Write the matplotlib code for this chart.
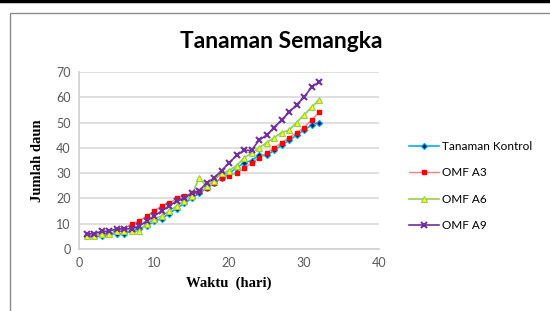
import matplotlib.pyplot as plt
from matplotlib.patches import Rectangle
from matplotlib.lines import Line2D

# Data (jumlah daun per hari)
hari = list(range(1, 33))
kontrol = [5, 5, 5, 6, 6, 6, 7, 8, 9, 11, 12, 14, 16, 18, 20, 22,
           24, 26, 28, 30, 32, 34, 35, 37, 37, 39, 41, 43, 45, 47, 49, 50]
omf_a3 = [5, 5, 6, 6, 7, 8, 10, 11, 13, 15, 17, 18, 20, 21, 22, 23,
          24, 26, 28, 29, 30, 32, 34, 36, 38, 40, 42, 44, 46, 48, 51, 54]
omf_a6 = [5, 5, 6, 6, 7, 7, 7, 7, 10, 12, 13, 15, 17, 19, 21, 28,
          25, 27, 30, 31, 33, 36, 38, 40, 42, 44, 46, 47, 50, 53, 56, 59]
omf_a9 = [6, 6, 7, 7, 8, 8, 8, 9, 11, 13, 15, 17, 19, 20, 22, 23,
          26, 28, 31, 34, 37, 39, 39, 43, 45, 48, 51, 54, 57, 60, 64, 66]

labels = ['Tanaman Kontrol', 'OMF A3', 'OMF A6', 'OMF A9']

fig = plt.figure(figsize=(5.5, 3.11), dpi=100)

# bingkai grafik + garis hitam atas
fig.add_artist(Line2D([0, 1], [1 - 1 / 311, 1 - 1 / 311], color='black', lw=2.5))
fig.add_artist(Rectangle((9.5 / 550, -0.1), 1.2, 1 - 12.5 / 311 + 0.1, fill=False,
                         edgecolor='#8c8c8c', lw=1.0))

ax = fig.add_axes([79 / 550, 1 - 249 / 311, 300 / 550, 177 / 311])

ax.plot(hari, kontrol, color='#00b0f0', lw=1.2, marker='D', ms=3.2,
        mfc='#002060', mec='#00b0f0', mew=0.8, label=labels[0])
ax.plot(hari, omf_a3, color='#ff8080', lw=1.0, marker='s', ms=3.5,
        mfc='#ff0000', mec='#ff0000', label=labels[1])
ax.plot(hari, omf_a6, color='#92d050', lw=1.2, marker='^', ms=4.5,
        mfc='#ffff00', mec='#92d050', mew=0.8, label=labels[2])
ax.plot(hari, omf_a9, color='#7030a0', lw=1.2, marker='x', ms=5, mew=1.5,
        label=labels[3])

ax.set_xlim(0, 40)
ax.set_ylim(0, 70)
ax.set_xticks([0, 10, 20, 30, 40])
ax.set_yticks(range(0, 71, 10))
ax.grid(axis='y', color='#d9d9d9', lw=1.2)
ax.set_axisbelow(True)
for s in ['top', 'right']:
    ax.spines[s].set_visible(False)
for s in ['left', 'bottom']:
    ax.spines[s].set_color('#d0d0d0')
    ax.spines[s].set_linewidth(1.2)
ax.tick_params(length=0, labelsize=9, labelcolor='#595959', pad=6)
for t in ax.get_xticklabels() + ax.get_yticklabels():
    t.set_fontfamily('Lato')

ax.set_xlabel('Waktu  (hari)', fontfamily='Liberation Serif', fontweight='bold',
              fontsize=10.5, labelpad=5)
ax.set_ylabel('Jumlah daun', fontfamily='Liberation Serif', fontweight='bold',
              fontsize=10.5, labelpad=9)

fig.text(281 / 550, 1 - 41 / 311, 'Tanaman Semangka', ha='center', va='center',
         fontfamily='Lato', fontweight='bold', fontsize=16.5)

ax.legend(loc='center left', bbox_to_anchor=(398 / 550, 1 - 186 / 311),
          bbox_transform=fig.transFigure, frameon=False,
          prop={'family': 'Lato', 'size': 8.5}, handlelength=2.6,
          labelspacing=1.3, handletextpad=0.2)

fig.savefig('out.png', dpi=100)
